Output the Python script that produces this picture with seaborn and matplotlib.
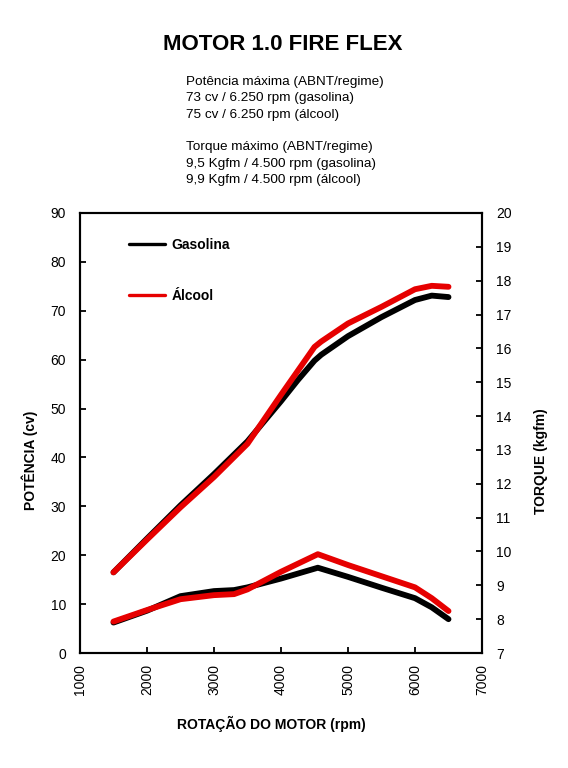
import matplotlib
matplotlib.use("Agg")
import matplotlib.pyplot as plt
import seaborn as sns
import pandas as pd

# curvas
rpm_pot = [1500, 2000, 2500, 3000, 3500, 4000, 4250, 4500, 4600, 5000, 5500, 6000, 6250, 6500]
pot_gasolina = [16.5, 23.4, 30.2, 36.6, 43.3, 51.5, 55.8, 59.8, 61.0, 64.8, 68.7, 72.2, 73.1, 72.8]
pot_alcool = [16.5, 23.2, 29.8, 36.0, 42.8, 52.8, 57.7, 62.6, 63.7, 67.4, 70.8, 74.4, 75.1, 74.9]

rpm_torque = [1500, 2000, 2500, 3000, 3300, 3500, 4000, 4550, 5000, 5500, 6000, 6250, 6500]
torque_gasolina = [7.9, 8.25, 8.68, 8.83, 8.86, 8.94, 9.2, 9.52, 9.25, 8.93, 8.62, 8.35, 8.0]
torque_alcool = [7.93, 8.27, 8.59, 8.71, 8.74, 8.88, 9.4, 9.92, 9.6, 9.27, 8.94, 8.62, 8.24]

info_lines = ["Potência máxima (ABNT/regime)",
              "73 cv / 6.250 rpm (gasolina)",
              "75 cv / 6.250 rpm (álcool)",
              "",
              "Torque máximo (ABNT/regime)",
              "9,5 Kgfm / 4.500 rpm (gasolina)",
              "9,9 Kgfm / 4.500 rpm (álcool)"]

sns.set_style("ticks")
plt.rcParams['font.family'] = ['Liberation Sans', 'DejaVu Sans']
plt.rcParams.update({'text.color': 'black', 'axes.labelcolor': 'black',
                     'xtick.color': 'black', 'ytick.color': 'black'})

fig = plt.figure(figsize=(5.68, 7.68), dpi=100)
ax = fig.add_axes([0.1408, 0.1497, 0.7078, 0.573])
ax2 = ax.twinx()

pot = pd.DataFrame({'rpm': rpm_pot, 'Gasolina': pot_gasolina, 'Álcool': pot_alcool})
tor = pd.DataFrame({'rpm': rpm_torque, 'Gasolina': torque_gasolina, 'Álcool': torque_alcool})

red = '#e60000'
lw = 4.2
sns.lineplot(data=pot, x='rpm', y='Gasolina', ax=ax, color='black', lw=lw,
             solid_capstyle='round', solid_joinstyle='round', label='Gasolina', zorder=3)
sns.lineplot(data=pot, x='rpm', y='Álcool', ax=ax, color=red, lw=lw,
             solid_capstyle='round', solid_joinstyle='round', label='Álcool', zorder=4)
sns.lineplot(data=tor, x='rpm', y='Gasolina', ax=ax2, color='black', lw=lw,
             solid_capstyle='round', solid_joinstyle='round', legend=False, zorder=3)
sns.lineplot(data=tor, x='rpm', y='Álcool', ax=ax2, color=red, lw=lw,
             solid_capstyle='round', solid_joinstyle='round', legend=False, zorder=4)

ax.set_xlim(1000, 7000)
ax.set_ylim(0, 90)
ax2.set_ylim(7, 20)
ax.set_xticks(range(1000, 7001, 1000))
ax.set_yticks(range(0, 91, 10))
ax2.set_yticks(range(7, 21, 1))
ax.set_xlabel('')
ax.set_ylabel('')
ax2.set_ylabel('')

for a in (ax, ax2):
    for s in a.spines.values():
        s.set_visible(True)
        s.set_linewidth(1.5)
        s.set_color('black')
ax.tick_params(axis='both', direction='in', length=4, width=1.3, labelsize=10, colors='black')
ax.tick_params(axis='x', labelrotation=90, pad=8)
ax.tick_params(axis='y', pad=10)
ax2.tick_params(axis='y', direction='in', length=4, width=1.3, labelsize=10, pad=10, colors='black')

leg = ax.legend(loc='upper left', bbox_to_anchor=(0.09, 0.972), frameon=False,
                labelspacing=2.65, handlelength=2.6, handletextpad=0.5,
                prop={'weight': 'bold', 'size': 10})
for line in leg.get_lines():
    line.set_linewidth(2.4)

fig.text(0.498, 0.942, 'MOTOR 1.0 FIRE FLEX', ha='center', va='center',
         fontsize=16, fontweight='bold')
y = 0.893
for t in info_lines:
    fig.text(0.327, y, t, ha='left', va='center', fontsize=9.7)
    y -= 16.3 / 768

fig.text(0.053, 0.40, 'POTÊNCIA (cv)', rotation=90, ha='center', va='center',
         fontsize=10, fontweight='bold')
fig.text(0.952, 0.40, 'TORQUE (kgfm)', rotation=90, ha='center', va='center',
         fontsize=10, fontweight='bold')
fig.text(0.477, 0.057, 'ROTAÇÃO DO MOTOR (rpm)', ha='center', va='center',
         fontsize=10, fontweight='bold')

fig.savefig('out.png', dpi=100)
